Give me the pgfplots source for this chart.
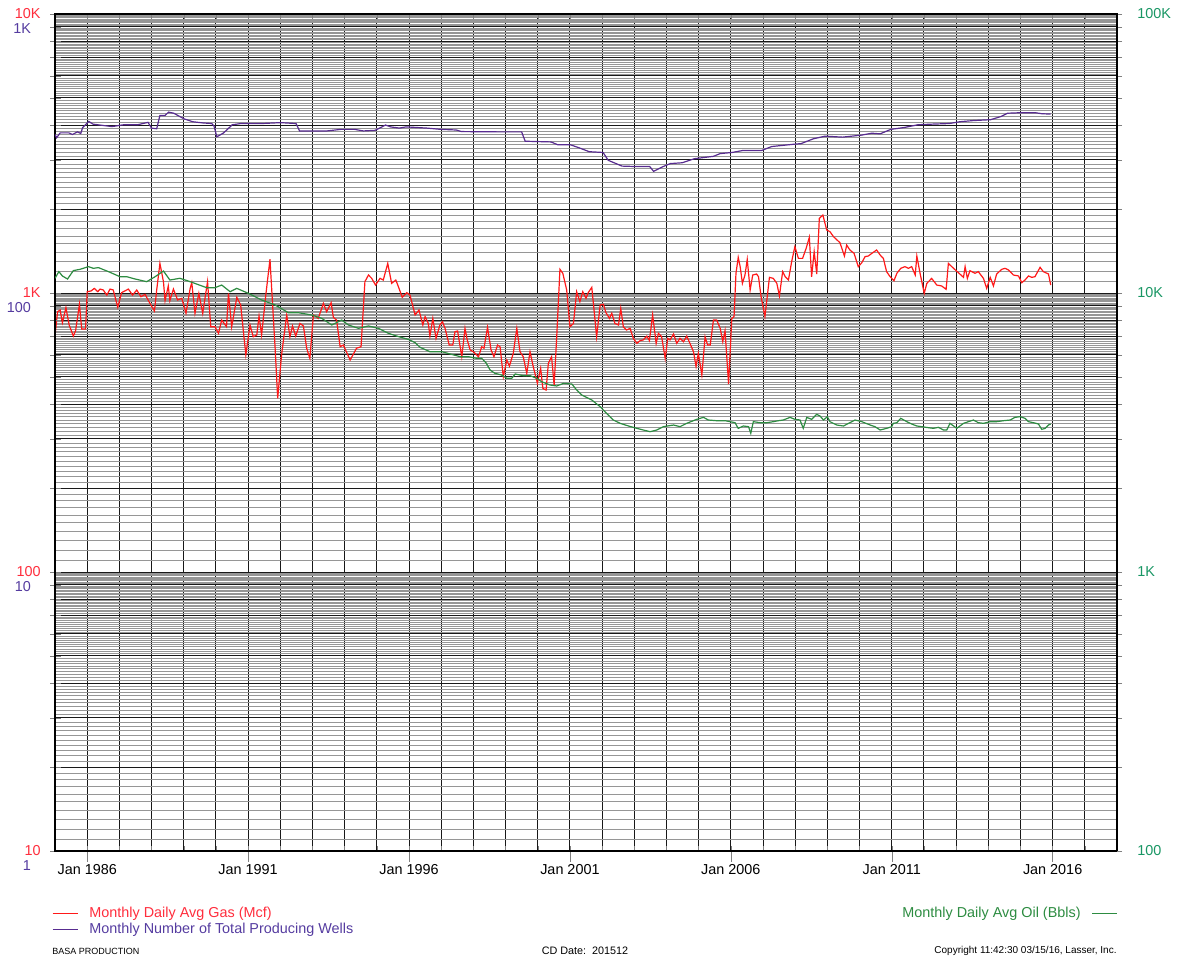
\documentclass[border=0pt]{standalone}
\usepackage{pgfplots}
\usepackage{pgfplotstable}
\pgfplotsset{compat=1.18}
\usepackage{fontspec}
\setmainfont{Liberation Sans}
\definecolor{gasred}{RGB}{255,25,25}
\definecolor{gaslabel}{RGB}{255,45,60}
\definecolor{wellpurple}{RGB}{88,44,144}
\definecolor{welllabel}{RGB}{85,60,160}
\definecolor{oilgreen}{RGB}{45,140,65}
\definecolor{oillabel}{RGB}{25,150,100}
\definecolor{gridgray}{RGB}{150,150,150}
\newcommand{\mainsize}{\fontsize{7.2pt}{8.6pt}\selectfont}
\newcommand{\legline}[1]{\pgfsetstrokecolor{#1}\pgfsetcolor{#1}\pgfsetlinewidth{0.7pt}\pgfpathmoveto{\pgfpointorigin}\pgfpathlineto{\pgfpoint{12.5pt}{0pt}}\pgfusepath{stroke}}
\pgfplotsset{
  /pgfplots/mycommon/.style={
    width=531pt, height=418.5pt, scale only axis,
    at={(27.5pt,54.5pt)}, anchor=south west,
    xmin=1985, xmax=2018,
    tick label style={font=\mainsize},
    axis line style={line width=0.6pt, black},
  },
  gasleg/.style={legend image code/.code={\legline{gasred}}},
  wellleg/.style={legend image code/.code={\legline{wellpurple}}},
  oilleg/.style={legend image code/.code={\legline{oilgreen}}},
}

\pgfplotstableread{
year gas
1985.00 701
1985.08 857
1985.16 869
1985.23 783
1985.34 886
1985.44 768
1985.57 701
1985.64 733
1985.76 911
1985.83 743
1985.95 743
1986.00 1011
1986.12 1017
1986.22 1039
1986.33 1011
1986.40 1033
1986.50 1025
1986.61 983
1986.71 1033
1986.81 1025
1986.95 889
1987.07 1003
1987.28 1033
1987.41 983
1987.54 1025
1987.67 970
1987.80 989
1987.95 918
1988.09 862
1988.16 1025
1988.26 1277
1988.37 1098
1988.42 939
1988.52 1060
1988.57 939
1988.68 1033
1988.81 944
1988.94 957
1989.07 846
1989.20 1039
1989.25 1089
1989.35 846
1989.47 997
1989.59 846
1989.74 1098
1989.84 757
1989.97 757
1990.08 717
1990.18 800
1990.33 757
1990.39 997
1990.49 757
1990.65 965
1990.77 906
1990.93 600
1991.06 768
1991.16 697
1991.27 707
1991.34 827
1991.42 707
1991.55 983
1991.68 1321
1991.84 634
1991.92 419
1992.04 600
1992.20 834
1992.30 697
1992.38 762
1992.48 701
1992.61 778
1992.72 762
1992.82 634
1992.92 583
1993.03 834
1993.11 823
1993.18 811
1993.34 918
1993.44 857
1993.58 923
1993.65 818
1993.75 800
1993.86 642
1993.96 651
1994.17 575
1994.37 634
1994.51 642
1994.63 1098
1994.74 1160
1994.84 1129
1994.96 1068
1995.10 1129
1995.20 1113
1995.34 1277
1995.46 1083
1995.59 1113
1995.67 1054
1995.79 965
1995.93 1003
1996.03 983
1996.19 834
1996.31 869
1996.43 768
1996.50 823
1996.60 778
1996.65 701
1996.74 811
1996.84 688
1996.96 768
1997.04 789
1997.12 747
1997.25 651
1997.36 651
1997.43 727
1997.51 731
1997.64 591
1997.74 747
1997.81 679
1997.90 625
1998.00 616
1998.16 591
1998.26 642
1998.33 634
1998.44 753
1998.55 625
1998.64 591
1998.75 651
1998.83 642
1998.93 501
1999.04 575
1999.12 547
1999.24 608
1999.35 747
1999.45 616
1999.55 591
1999.66 515
1999.76 616
1999.86 545
1999.99 475
2000.09 537
2000.16 455
2000.26 449
2000.33 560
2000.43 591
2000.51 468
2000.59 697
2000.69 1216
2000.78 1176
2000.90 1025
2001.00 757
2001.11 778
2001.21 1011
2001.31 931
2001.40 1011
2001.50 957
2001.57 1003
2001.68 1048
2001.75 869
2001.83 697
2001.94 906
2002.04 911
2002.12 850
2002.23 811
2002.30 846
2002.40 778
2002.51 768
2002.58 881
2002.66 757
2002.76 737
2002.87 747
2002.97 688
2003.08 660
2003.18 675
2003.28 679
2003.39 701
2003.47 675
2003.57 834
2003.68 660
2003.75 717
2003.85 697
2003.96 583
2004.04 688
2004.11 679
2004.22 713
2004.32 660
2004.42 688
2004.53 669
2004.63 701
2004.73 660
2004.84 616
2004.92 545
2004.99 608
2005.10 508
2005.20 697
2005.28 651
2005.36 651
2005.46 800
2005.56 800
2005.67 747
2005.75 669
2005.82 733
2005.93 472
2006.03 811
2006.10 823
2006.16 1177
2006.23 1342
2006.29 1243
2006.36 1083
2006.44 1160
2006.51 1320
2006.60 1025
2006.68 1160
2006.80 1170
2006.86 1144
2006.94 970
2007.06 823
2007.20 1138
2007.32 1128
2007.43 1083
2007.51 976
2007.61 1193
2007.69 1144
2007.79 1113
2007.89 1295
2007.99 1466
2008.10 1331
2008.23 1331
2008.34 1446
2008.44 1583
2008.51 1144
2008.59 1407
2008.67 1170
2008.75 1852
2008.86 1903
2008.98 1682
2009.08 1659
2009.19 1592
2009.39 1515
2009.53 1357
2009.60 1486
2009.70 1426
2009.83 1387
2009.96 1243
2010.07 1284
2010.17 1350
2010.27 1357
2010.38 1387
2010.53 1426
2010.64 1368
2010.74 1331
2010.84 1193
2010.95 1144
2011.07 1107
2011.16 1177
2011.28 1226
2011.41 1243
2011.52 1226
2011.62 1243
2011.73 1160
2011.78 1357
2011.88 1177
2012.01 997
2012.09 1083
2012.24 1128
2012.40 1068
2012.55 1060
2012.69 1031
2012.76 1277
2012.92 1226
2013.07 1183
2013.23 1138
2013.28 1243
2013.35 1128
2013.43 1202
2013.59 1177
2013.69 1193
2013.85 1128
2013.95 1039
2014.06 1138
2014.16 1060
2014.26 1170
2014.42 1216
2014.52 1226
2014.63 1209
2014.78 1160
2014.94 1151
2015.04 1089
2015.14 1113
2015.25 1151
2015.35 1138
2015.45 1144
2015.61 1236
2015.71 1193
2015.87 1170
2015.94 1068
}\gasdata

\pgfplotstableread{
year wells
1985.00 370
1985.05 360
1985.16 375
1985.43 375
1985.54 370
1985.70 378
1985.80 373
1985.86 392
1986.05 412
1986.18 403
1986.39 400
1986.77 395
1987.14 401
1987.57 401
1987.89 409
1988.00 390
1988.16 388
1988.26 433
1988.42 433
1988.53 445
1988.69 441
1989.01 421
1989.28 411
1989.60 407
1989.87 405
1989.94 397
1990.03 363
1990.24 375
1990.51 401
1990.78 405
1991.42 405
1992.01 408
1992.49 405
1992.60 381
1993.45 381
1993.88 386
1994.31 386
1994.58 381
1994.95 383
1995.27 400
1995.43 394
1995.70 390
1995.91 394
1996.24 392
1996.56 390
1996.99 386
1997.47 384
1997.63 379
1998.91 378
1999.50 378
1999.61 350
2000.41 348
2000.62 340
2001.01 340
2001.27 332
2001.60 321
2002.03 319
2002.19 299
2002.62 285
2003.05 284
2003.48 284
2003.60 273
2003.90 284
2004.12 291
2004.49 293
2004.87 303
2005.46 309
2005.67 316
2006.04 319
2006.36 324
2006.95 324
2007.27 335
2008.02 342
2008.18 343
2008.56 357
2008.93 365
2009.47 362
2010.06 368
2010.38 374
2010.64 372
2010.97 386
2011.39 392
2011.82 401
2012.25 403
2012.79 405
2013.11 411
2013.53 415
2014.07 418
2014.39 429
2014.60 441
2015.03 443
2015.46 443
2015.67 439
2015.94 438
}\wellsdata

\pgfplotstableread{
year oil
1985.00 11290
1985.12 11930
1985.23 11506
1985.39 11224
1985.57 12030
1985.78 12160
1986.04 12430
1986.19 12260
1986.35 12330
1986.66 11930
1987.02 11440
1987.23 11440
1987.49 11224
1987.85 10980
1988.11 11440
1988.37 11990
1988.57 11130
1988.88 11290
1989.14 11040
1989.40 10770
1989.71 10450
1989.97 10450
1990.18 10680
1990.44 10110
1990.65 10390
1991.01 9970
1991.42 9440
1991.84 9060
1992.25 8500
1992.56 8500
1992.98 8340
1993.29 8110
1993.60 7680
1993.91 8000
1994.12 7680
1994.43 7470
1994.74 7620
1995.05 7470
1995.36 7170
1995.67 6980
1995.98 6820
1996.19 6640
1996.34 6390
1996.65 6162
1997.02 6162
1997.28 6045
1997.59 5913
1997.85 5913
1998.10 5832
1998.26 5832
1998.39 5628
1998.52 5297
1998.67 5153
1998.88 5083
1999.04 4945
1999.19 4945
1999.30 5125
1999.55 5055
1999.76 5055
1999.97 4945
2000.12 4811
2000.38 4680
2000.59 4642
2000.80 4745
2001.06 4719
2001.21 4491
2001.37 4309
2001.68 4135
2001.94 3913
2002.14 3704
2002.35 3506
2002.56 3411
2002.82 3337
2003.08 3273
2003.28 3228
2003.49 3184
2003.70 3228
2003.90 3318
2004.22 3364
2004.42 3318
2004.63 3411
2004.94 3525
2005.15 3584
2005.30 3506
2005.56 3486
2005.82 3486
2005.98 3458
2006.13 3430
2006.23 3273
2006.39 3337
2006.55 3318
2006.62 3141
2006.70 3458
2006.91 3430
2007.12 3430
2007.32 3458
2007.48 3486
2007.63 3506
2007.84 3584
2007.99 3525
2008.15 3506
2008.25 3273
2008.36 3584
2008.51 3525
2008.67 3674
2008.77 3624
2008.88 3506
2009.00 3604
2009.08 3458
2009.29 3364
2009.50 3337
2009.70 3430
2009.86 3506
2010.07 3458
2010.33 3364
2010.48 3318
2010.64 3228
2010.84 3273
2011.00 3318
2011.05 3411
2011.16 3430
2011.28 3555
2011.47 3458
2011.62 3392
2011.78 3337
2011.93 3318
2012.14 3291
2012.29 3273
2012.45 3300
2012.61 3228
2012.71 3228
2012.81 3411
2013.02 3273
2013.23 3411
2013.38 3458
2013.54 3506
2013.69 3430
2013.85 3411
2014.06 3458
2014.26 3458
2014.47 3486
2014.68 3506
2014.83 3584
2014.99 3604
2015.14 3555
2015.25 3458
2015.40 3430
2015.56 3392
2015.66 3246
2015.77 3273
2015.87 3364
2015.94 3392
}\oildata

\begin{document}
\begin{tikzpicture}
\path (0,0) rectangle (590.5pt,480pt);
% gas axis: grid, left gas labels, legend
\begin{axis}[mycommon,
  ymode=log,
  ymin=10, ymax=10000,
  ytick={10,20,30,40,50,60,70,80,90,100,200,300,400,500,600,700,800,900,1000,2000,3000,4000,5000,6000,7000,8000,9000,10000},
  yticklabels={10,{},{},{},{},{},{},{},{},100,{},{},{},{},{},{},{},{},1K,{},{},{},{},{},{},{},{},10K},
  yticklabel style={text=gaslabel, anchor=east, inner sep=0pt, xshift=-4.5pt},
  minor ytick={11,12,...,19,21,22,...,29,31,32,...,39,41,42,...,49,51,52,...,59,61,62,...,69,71,72,...,79,81,82,...,89,91,92,...,99,
    110,120,...,190,210,220,...,290,310,320,...,390,410,420,...,490,510,520,...,590,610,620,...,690,710,720,...,790,810,820,...,890,910,920,...,990,
    1100,1200,...,1900,2100,2200,...,2900,3100,3200,...,3900,4100,4200,...,4900,5100,5200,...,5900,6100,6200,...,6900,7100,7200,...,7900,8100,8200,...,8900,9100,9200,...,9900},
  ymajorgrids, yminorgrids,
  xtick={1985,1986,...,2018},
  xticklabels={},
  xmajorgrids,
  xtick align=inside,
  ytick align=outside,
  ytick pos=left,
  major tick length=2.5pt,
  minor tick length=0pt,
  major grid style={line width=0.5pt, draw=black!90},
  minor grid style={line width=0.4pt, draw=gridgray},
  legend style={at={(0,0)}, anchor=north west, xshift=-1.5pt, yshift=-27.6pt,
    draw=none, fill=none, inner sep=0pt, outer sep=0pt, font=\mainsize,
    nodes={inner sep=0pt, text height=5.5pt, text depth=1.5pt},
    row sep=1pt, column sep=5.5pt},
  legend cell align=left,
]
\addplot[gasred, line width=0.6pt, mark=none, forget plot] table[x=year, y=gas] {\gasdata};
\addlegendimage{gasleg}
\addlegendentry{\textcolor{gaslabel}{Monthly Daily Avg Gas (Mcf)}}
\addlegendimage{wellleg}
\addlegendentry{\textcolor{welllabel}{Monthly Number of Total Producing Wells}}
\end{axis}
% wells axis
\begin{axis}[mycommon,
  ymode=log,
  ymin=1, ymax=1000,
  axis x line=none, axis y line*=left,
  ytick={1,10,100,1000},
  yticklabels={1,10,100,1K},
  yticklabel style={text=welllabel, anchor=east, inner sep=0pt, xshift=-11.8pt, yshift=-7.5pt},
  major tick length=0pt,
]
\addplot[wellpurple, line width=0.6pt, mark=none] table[x=year, y=wells] {\wellsdata};
\end{axis}
% oil axis
\begin{axis}[mycommon,
  ymode=log,
  ymin=100, ymax=100000,
  axis x line=none, axis y line*=right,
  ytick={100,200,300,400,500,600,700,800,900,1000,2000,3000,4000,5000,6000,7000,8000,9000,10000,20000,30000,40000,50000,60000,70000,80000,90000,100000},
  yticklabels={100,{},{},{},{},{},{},{},{},1K,{},{},{},{},{},{},{},{},10K,{},{},{},{},{},{},{},{},100K},
  yticklabel style={text=oillabel, anchor=west, inner sep=0pt, xshift=7.5pt},
  ytick align=outside,
  major tick length=2.5pt,
  legend style={at={(1,0)}, anchor=north east, xshift=0.5pt, yshift=-27.6pt,
    draw=none, fill=none, inner sep=0pt, outer sep=0pt, font=\mainsize,
    nodes={inner sep=0pt, text height=5.5pt, text depth=1.5pt},
    column sep=5.5pt},
  legend plot pos=right,
]
\addplot[oilgreen, line width=0.6pt, mark=none, forget plot] table[x=year, y=oil] {\oildata};
\addlegendimage{oilleg}
\addlegendentry{\textcolor{oilgreen}{Monthly Daily Avg Oil (Bbls)}}
\end{axis}
% x labels axis
\begin{axis}[mycommon,
  ymode=log,
  ymin=10, ymax=10000,
  axis y line=none, axis x line*=bottom,
  xtick={1986,1991,...,2016},
  xticklabels={Jan 1986,Jan 1991,Jan 1996,Jan 2001,Jan 2006,Jan 2011,Jan 2016},
  xticklabel style={anchor=north, inner sep=0pt, yshift=-1pt},
  xtick align=outside,
  major tick length=5.5pt,
]
\end{axis}
\node[anchor=west, inner sep=0pt, font=\fontsize{4.5pt}{5pt}\selectfont] at (26pt,4.5pt) {BASA PRODUCTION};
\node[anchor=center, inner sep=0pt, font=\fontsize{5.4pt}{6pt}\selectfont] at (292.5pt,4.5pt) {CD Date:\ \ 201512};
\node[anchor=east, inner sep=0pt, font=\fontsize{5pt}{6pt}\selectfont] at (558.5pt,4.5pt) {Copyright 11:42:30 03/15/16, Lasser, Inc.};
\end{tikzpicture}
\end{document}
